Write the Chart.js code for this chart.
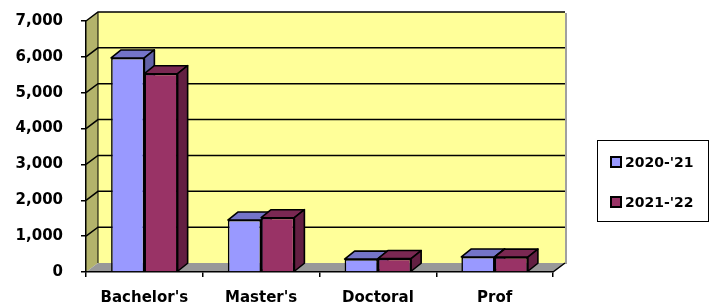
<!DOCTYPE html>
<html>
<head>
<meta charset="utf-8">
<script src="https://cdn.jsdelivr.net/npm/chart.js@4.4.0/dist/chart.umd.min.js"></script>
<style>
  html, body { margin: 0; padding: 0; background: #fff; }
  #wrap { width: 714px; height: 307px; }
</style>
</head>
<body>
<div id="wrap"><canvas id="enrollChart" width="714" height="307"></canvas></div>
<script>
// data
const categories = ["Bachelor's", "Master's", "Doctoral", "Prof"];
const seriesNames = ["2020-'21", "2021-'22"];
const values2020 = [5970, 1450, 360, 420];
const values2021 = [5530, 1515, 375, 415];
const yMax = 7000;
const yStep = 1000;

const frontColors = ['#9999ff', '#993366'];
const topColors = ['#7474c8', '#7a2852'];
const sideColors = ['#6262a8', '#631f42'];

const FONT = 'DejaVu Sans';
const WALL_DX = 12, WALL_DY = -9;   // depth of the walls
const BAR_DX = 10, BAR_DY = -8;     // depth of the columns

function poly(ctx, pts, fill, stroke, lw) {
    ctx.beginPath();
    ctx.moveTo(pts[0][0], pts[0][1]);
    for (let i = 1; i < pts.length; i++) ctx.lineTo(pts[i][0], pts[i][1]);
    ctx.closePath();
    if (fill) { ctx.fillStyle = fill; ctx.fill(); }
    if (stroke) { ctx.strokeStyle = stroke; ctx.lineWidth = lw || 1; ctx.stroke(); }
}

// walls, floor and gridlines behind everything
const walls3d = {
    id: 'walls3d',
    beforeDraw(chart) {
        const ctx = chart.ctx;
        const a = chart.chartArea;
        const y = chart.scales.y;
        const L = a.left, R = a.right, T = a.top, B = a.bottom;
        ctx.save();
        ctx.lineJoin = 'miter';
        // back wall
        poly(ctx, [[L + WALL_DX, T + WALL_DY], [R + WALL_DX, T + WALL_DY], [R + WALL_DX, B + WALL_DY], [L + WALL_DX, B + WALL_DY]], '#ffff99');
        // right shadow
        ctx.fillStyle = '#a0a0a0';
        ctx.fillRect(R + WALL_DX, T + WALL_DY + 1, 2, B - T);
        // side wall
        poly(ctx, [[L, T], [L + WALL_DX, T + WALL_DY], [L + WALL_DX, B + WALL_DY], [L, B]], '#b3b36b');
        // floor
        poly(ctx, [[L, B], [L + WALL_DX, B + WALL_DY], [R + WALL_DX, B + WALL_DY], [R, B]], '#999999');
        // gridlines on wall and side
        ctx.strokeStyle = '#000';
        ctx.lineWidth = 1.5;
        for (let v = yStep; v <= yMax; v += yStep) {
            const py = y.getPixelForValue(v);
            ctx.beginPath();
            ctx.moveTo(L, py);
            ctx.lineTo(L + WALL_DX, py + WALL_DY);
            ctx.lineTo(R + WALL_DX, py + WALL_DY);
            ctx.stroke();
        }
        // floor right diagonal
        ctx.beginPath();
        ctx.moveTo(R, B);
        ctx.lineTo(R + WALL_DX, B + WALL_DY);
        ctx.stroke();
        ctx.lineWidth = 1;
        ctx.beginPath();
        ctx.moveTo(L + WALL_DX, B + WALL_DY);
        ctx.lineTo(L + WALL_DX, T + WALL_DY);
        ctx.stroke();
        ctx.restore();
    },
    // tops and sides of the columns, fronts are drawn by chart.js
    beforeDatasetsDraw(chart) {
        const ctx = chart.ctx;
        ctx.save();
        ctx.lineJoin = 'round';
        for (let j = 0; j < categories.length; j++) {
            for (let i = 0; i < chart.data.datasets.length; i++) {
                const bar = chart.getDatasetMeta(i).data[j];
                const p = bar.getProps(['x', 'y', 'base', 'width'], true);
                const x0 = p.x - p.width / 2, x1 = p.x + p.width / 2;
                const top = p.y, base = p.base;
                poly(ctx, [[x0, top], [x0 + BAR_DX, top + BAR_DY], [x1 + BAR_DX, top + BAR_DY], [x1, top]], topColors[i], '#000', 1.6);
                poly(ctx, [[x1, top], [x1 + BAR_DX, top + BAR_DY], [x1 + BAR_DX, base + BAR_DY], [x1, base]], sideColors[i], '#000', 1.6);
            }
        }
        ctx.restore();
    },
    afterDraw(chart) {
        // legend box on the right
        const ctx = chart.ctx;
        ctx.save();
        ctx.strokeStyle = '#000';
        ctx.lineWidth = 1;
        ctx.strokeRect(597.5, 140.5, 111, 81);
        ctx.font = 'bold 14px "' + FONT + '"';
        ctx.textBaseline = 'middle';
        ctx.textAlign = 'left';
        seriesNames.forEach(function (name, i) {
            const cy = 162 + i * 40;
            ctx.fillStyle = frontColors[i];
            ctx.fillRect(611, cy - 5, 10, 10);
            ctx.lineWidth = 2;
            ctx.strokeRect(611, cy - 5, 10, 10);
            ctx.fillStyle = '#000';
            ctx.fillText(name, 625, cy + 1);
        });
        ctx.restore();
    }
};

new Chart(document.getElementById('enrollChart'), {
    type: 'bar',
    data: {
        labels: categories,
        datasets: [
            { label: seriesNames[0], data: values2020, backgroundColor: frontColors[0], borderColor: '#000', borderWidth: 1.6 },
            { label: seriesNames[1], data: values2021, backgroundColor: frontColors[1], borderColor: '#000', borderWidth: 1.6 }
        ]
    },
    options: {
        responsive: false,
        animation: false,
        events: [],
        layout: { padding: { top: 21, right: 161, left: 0, bottom: 0 } },
        datasets: { bar: { categoryPercentage: 0.57, barPercentage: 1.0 } },
        plugins: { legend: { display: false }, tooltip: { enabled: false } },
        scales: {
            x: {
                afterFit: function (s) { s.height = 35; s.paddingLeft = 0; s.paddingRight = 0; },
                grid: { drawOnChartArea: false, offset: true, tickLength: 5, color: '#000', lineWidth: 1.5 },
                border: { display: true, color: '#000', width: 1.5 },
                ticks: { color: '#000', padding: 12, font: { family: FONT, size: 15, weight: 'bold' } }
            },
            y: {
                min: 0,
                max: yMax,
                afterFit: function (s) { s.width = 86; s.paddingTop = 0; s.paddingBottom = 0; },
                grid: { drawOnChartArea: false, tickLength: 5, color: '#000', lineWidth: 1.5 },
                border: { display: true, color: '#000', width: 1.5 },
                ticks: {
                    stepSize: yStep,
                    color: '#000',
                    padding: 18,
                    font: { family: FONT, size: 15, weight: 'bold' },
                    callback: function (v) { return v.toLocaleString('en-US'); }
                }
            }
        }
    },
    plugins: [walls3d]
});
</script>
</body>
</html>
